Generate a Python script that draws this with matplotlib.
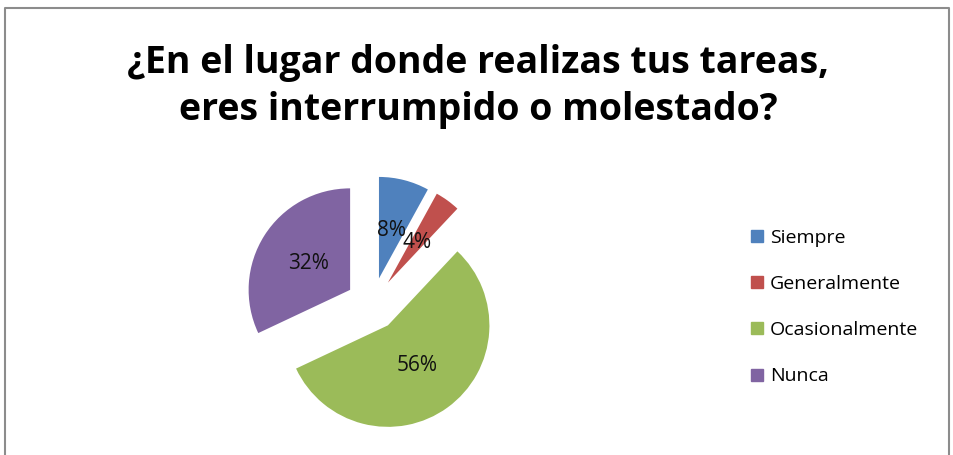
import matplotlib
matplotlib.use("Agg")
from matplotlib import pyplot as plt
from matplotlib.lines import Line2D

categorias = ["Siempre", "Generalmente", "Ocasionalmente", "Nunca"]
porcentajes = [8, 4, 56, 32]
colores = ["#4F81BD", "#C0504D", "#9BBB59", "#8064A2"]
titulo = ["¿En el lugar donde realizas tus tareas,", "eres interrumpido o molestado?"]

plt.rcParams['font.family'] = ['Open Sans', 'DejaVu Sans']

fig = plt.figure(figsize=(9.54, 4.55), dpi=100)
W, H = 954, 455

# borde del grafico (sin linea inferior)
borde = fig.add_axes([0, 0, 1, 1])
borde.set_xlim(0, W)
borde.set_ylim(H, 0)
borde.axis('off')
borde.plot([5, 5, 949, 949], [455, 8, 8, 455], color="#8c8c8c", linewidth=1.5)

# pastel: centro (372, 304) px, radio 101.5 px
cx, cy, r = 372.4, 304, 101.5
lado = 310
ax = fig.add_axes([(cx - lado / 2) / W, (H - cy - lado / 2) / H, lado / W, lado / H])
ax.pie(porcentajes, colors=colores, startangle=90, counterclock=False,
       explode=[0.26] * 4, autopct='%1.0f%%', pctdistance=0.49,
       textprops={'fontsize': 15, 'color': '#111111'}, radius=1)
lim = lado / 2 / r
ax.set_xlim(-lim, lim)
ax.set_ylim(-lim, lim)
ax.set_aspect('equal')
ax.axis('off')

# titulo en dos lineas (lineas base en y=73 y y=120 px)
for linea, yb in zip(titulo, [73, 120]):
    fig.text(478 / W, 1 - yb / H, linea, ha='center', va='baseline', fontsize=27,
             fontweight='bold')

manijas = [Line2D([], [], marker='s', linestyle='', markersize=8.5,
                  markerfacecolor=c, markeredgecolor=c) for c in colores]
fig.legend(manijas, categorias, loc='upper left', bbox_to_anchor=(740 / W, 1 - 219 / H),
           frameon=False, fontsize=14, handlelength=0.8, handletextpad=0.25,
           labelspacing=1.45, borderpad=0)

fig.savefig("out.png", dpi=100)
